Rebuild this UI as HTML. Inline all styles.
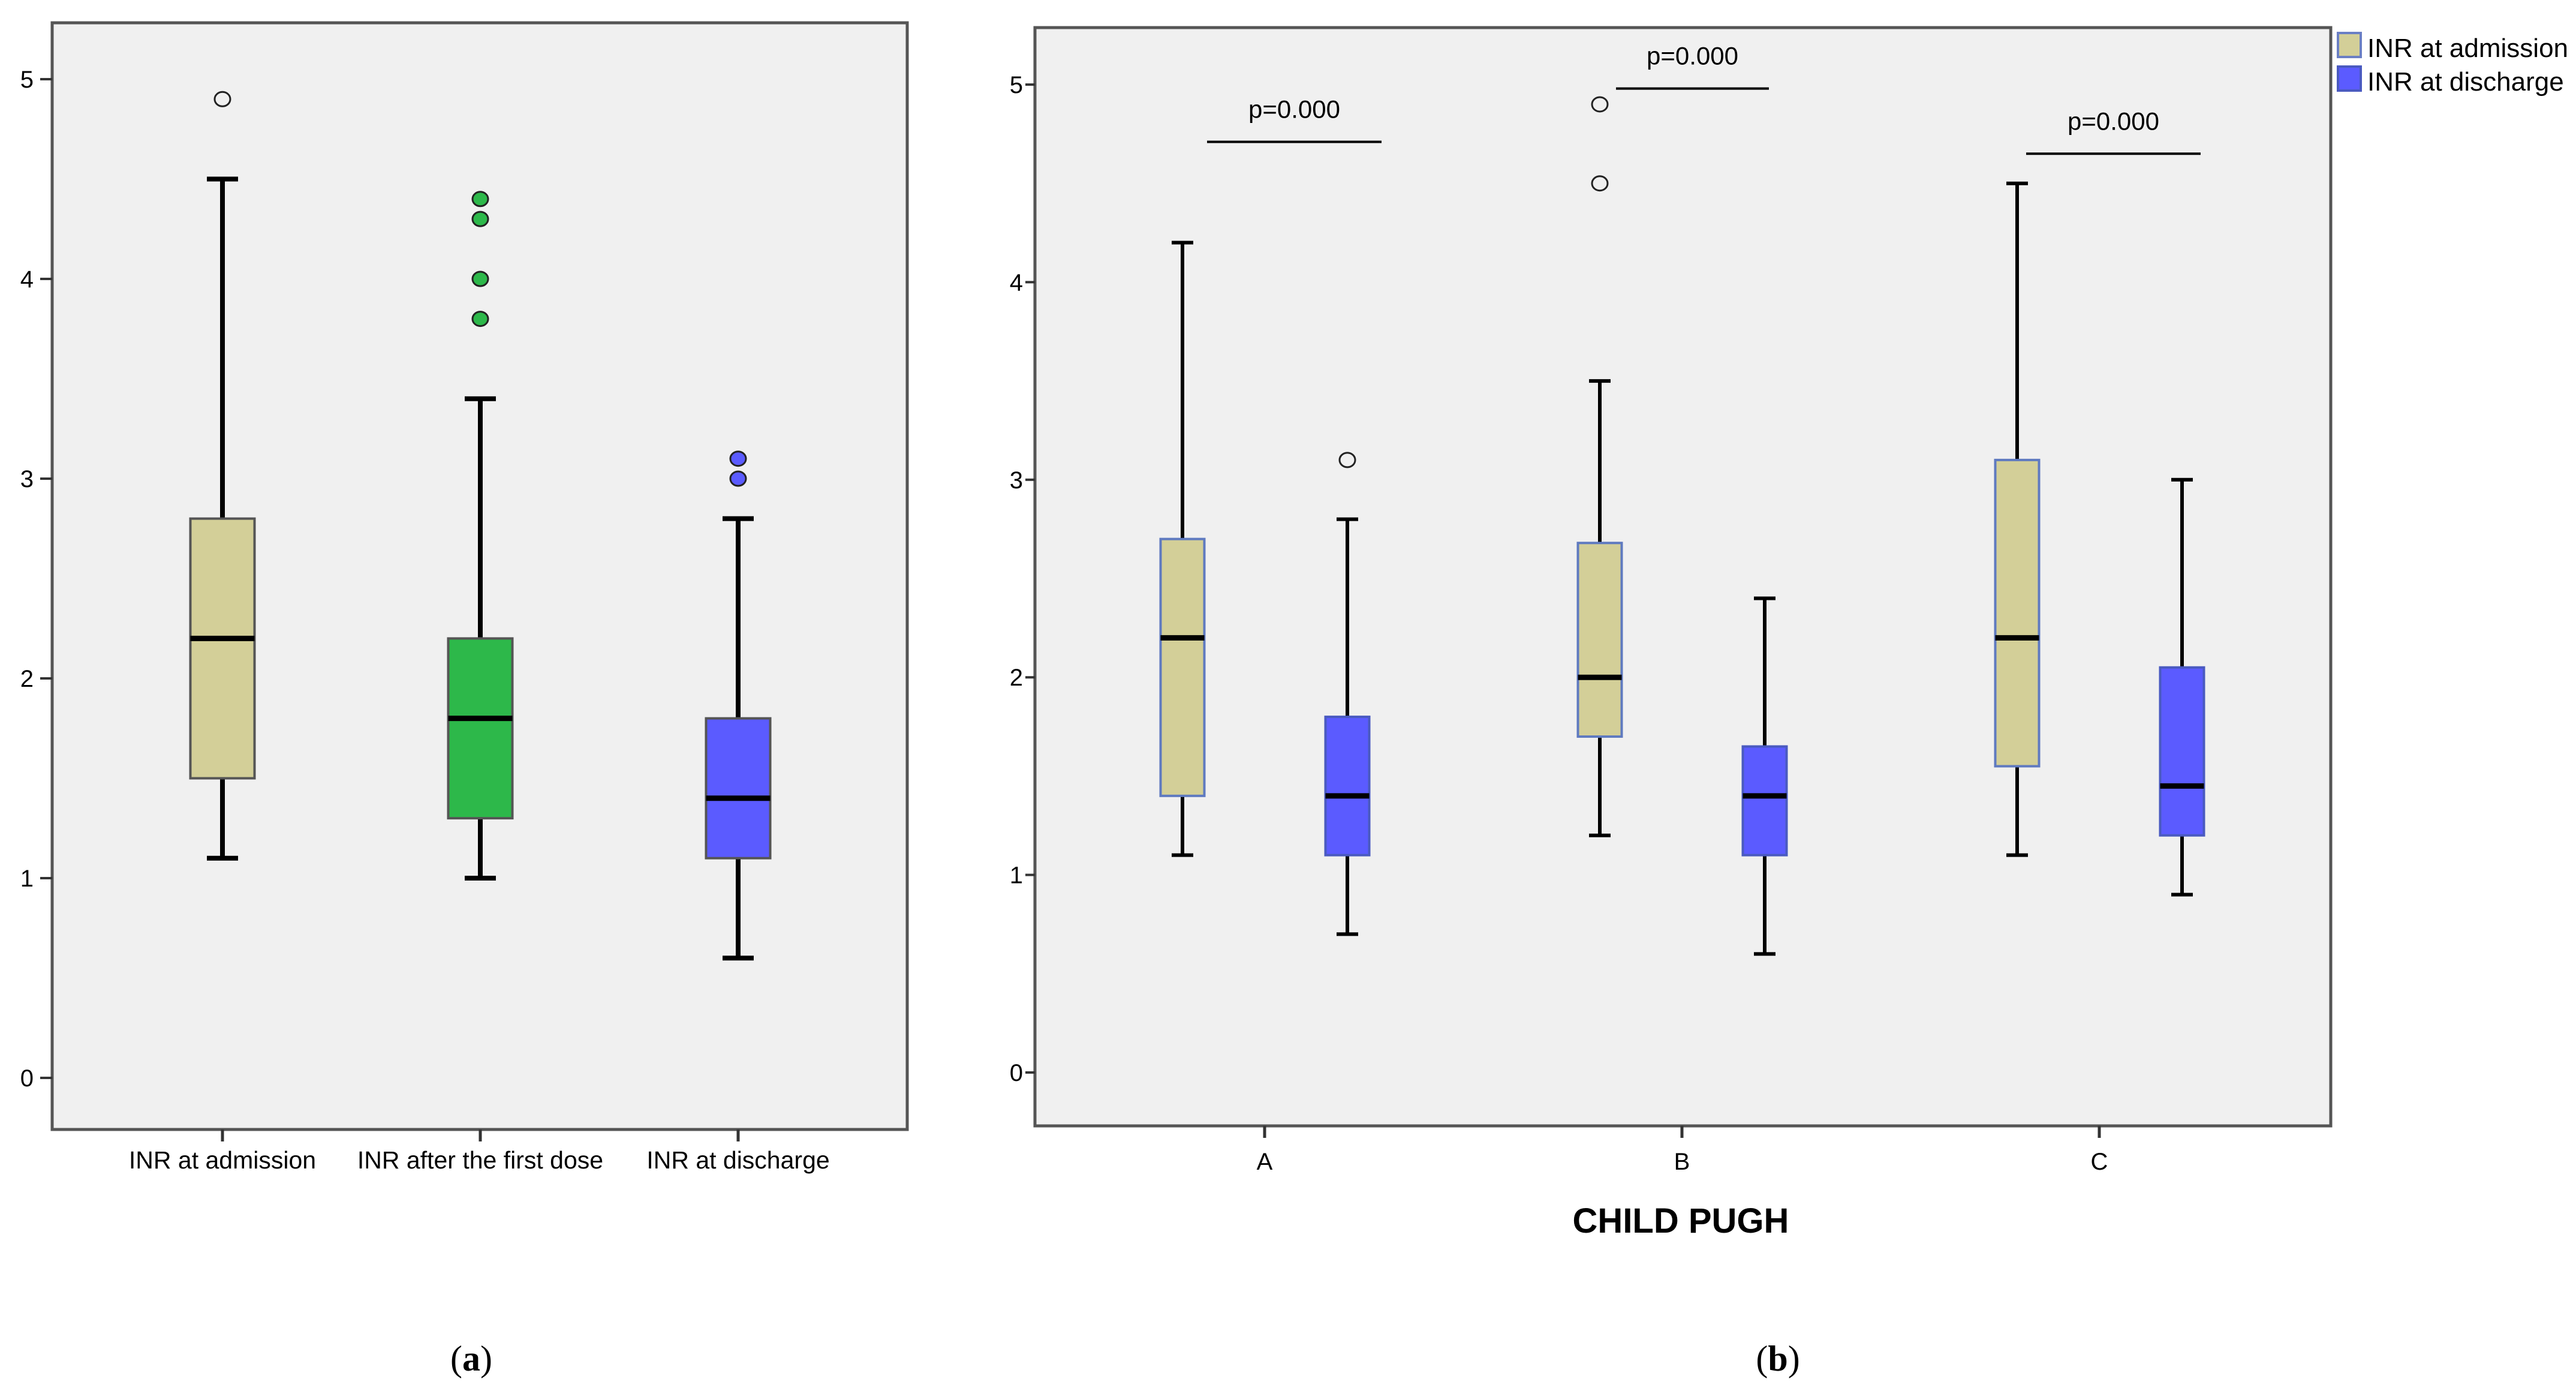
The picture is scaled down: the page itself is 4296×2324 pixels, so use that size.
<!DOCTYPE html>
<html><head><meta charset="utf-8"><style>
html,body{margin:0;padding:0;background:#fff;}
svg{display:block;font-family:"Liberation Sans",Arial,sans-serif;}
</style></head><body>
<svg id="chart" width="4296" height="2324" viewBox="0 0 4296 2324" xmlns="http://www.w3.org/2000/svg">
<rect x="87" y="38" width="1426" height="1845" fill="#f0f0f0" stroke="#555" stroke-width="5"/>
<rect x="1726" y="46" width="2161" height="1831" fill="#f0f0f0" stroke="#555" stroke-width="5"/>
<g id="ga"></g><g id="gb"></g>
<g>
<rect x="3899" y="55" width="38" height="40" fill="#d3cf98" stroke="#6a7fc4" stroke-width="4"/>
<text x="3948" y="95" font-size="44">INR at admission</text>
<rect x="3899" y="111" width="38" height="40" fill="#5b5bff" stroke="#4a5ac0" stroke-width="4"/>
<text x="3948" y="151" font-size="44">INR at discharge</text>
</g>
<text x="2803" y="2055" font-size="58" font-weight="bold" text-anchor="middle">CHILD PUGH</text>
<text x="786" y="2285" font-size="60" text-anchor="middle" font-family="Liberation Serif,serif">(<tspan font-weight="bold">a</tspan>)</text>
<text x="2965" y="2285" font-size="60" text-anchor="middle" font-family="Liberation Serif,serif">(<tspan font-weight="bold">b</tspan>)</text>
</svg>
<script>
// Panel a data
const aCats = ["INR at admission", "INR after the first dose", "INR at discharge"];
const aMin = [1.1, 1.0, 0.6];
const aQ1 = [1.5, 1.3, 1.1];
const aMed = [2.2, 1.8, 1.4];
const aQ3 = [2.8, 2.2, 1.8];
const aMax = [4.5, 3.4, 2.8];
const aOut = [[4.9], [3.8, 4.0, 4.3, 4.4], [3.0, 3.1]];
const aTicks = [0, 1, 2, 3, 4, 5];
// Panel b data
const bCats = ["A", "B", "C"];
const bSeries = ["INR at admission", "INR at discharge"];
const bAdmMin = [1.1, 1.2, 1.1];
const bAdmQ1 = [1.4, 1.7, 1.55];
const bAdmMed = [2.2, 2.0, 2.2];
const bAdmQ3 = [2.7, 2.68, 3.1];
const bAdmMax = [4.2, 3.5, 4.5];
const bAdmOut = [[], [4.5, 4.9], []];
const bDisMin = [0.7, 0.6, 0.9];
const bDisQ1 = [1.1, 1.1, 1.2];
const bDisMed = [1.4, 1.4, 1.45];
const bDisQ3 = [1.8, 1.65, 2.05];
const bDisMax = [2.8, 2.4, 3.0];
const bDisOut = [[3.1], [], []];
const bPLabels = ["p=0.000", "p=0.000", "p=0.000"];
const bPLevels = [4.71, 4.98, 4.65];
const bTicks = [0, 1, 2, 3, 4, 5];

// layout (not data): significance line offsets relative to group centre
const pLeft = [-96, -110, -122];
const pRight = [195, 145, 169];

const NS = "http://www.w3.org/2000/svg";
function mk(parent, tag, attrs) {
  const e = document.createElementNS(NS, tag);
  for (const k in attrs) e.setAttribute(k, attrs[k]);
  parent.appendChild(e);
  return e;
}
const yA = v => 1797 - v * 333;
const xA = i => 371 + i * 430;
const yB = v => 1788 - v * 329.4;
const xB = i => 2109 + i * 696;

function box(g, cx, w, cap, y, mn, q1, md, q3, mx, outs, fill, stroke, outFill, sw, name) {
  let e;
  e = mk(g, "line", {x1: cx, x2: cx, y1: y(mx), y2: y(q3), stroke: "#000", "stroke-width": sw});
  
  
  e = mk(g, "line", {x1: cx, x2: cx, y1: y(q1), y2: y(mn), stroke: "#000", "stroke-width": sw});
  
  
  e = mk(g, "line", {x1: cx - cap / 2, x2: cx + cap / 2, y1: y(mx), y2: y(mx), stroke: "#000", "stroke-width": sw});
  
  
  e = mk(g, "line", {x1: cx - cap / 2, x2: cx + cap / 2, y1: y(mn), y2: y(mn), stroke: "#000", "stroke-width": sw});
  
  
  e = mk(g, "rect", {x: cx - w / 2, y: y(q3), width: w, height: y(q1) - y(q3), fill: fill, stroke: stroke, "stroke-width": 4});
  
  
  e = mk(g, "line", {x1: cx - w / 2, x2: cx + w / 2, y1: y(md), y2: y(md), stroke: "#000", "stroke-width": 9});
  
  
  outs.forEach(o => {
    const c = mk(g, "ellipse", {cx: cx, cy: y(o), rx: 13, ry: 12, fill: outFill, stroke: "#222", "stroke-width": 3});
    
    
  });
}

const ga = document.getElementById("ga");
aTicks.forEach(t => {
  let e = mk(ga, "line", {x1: 67, x2: 87, y1: yA(t), y2: yA(t), stroke: "#333", "stroke-width": 4});
  
  
  e = mk(ga, "text", {x: 56, y: yA(t) + 14, "font-size": 40, "text-anchor": "end"});
  e.textContent = t;
  
  
});
const aFill = ["#d3cf98", "#2db84a", "#5b5bff"];
const aOutFill = ["#f0f0f0", "#2db84a", "#5b5bff"];
aCats.forEach((c, i) => {
  box(ga, xA(i), 107, 52, yA, aMin[i], aQ1[i], aMed[i], aQ3[i], aMax[i], aOut[i], aFill[i], "#555", aOutFill[i], 8, 'panel-a-' + ['admission', 'first-dose', 'discharge'][i]);
  let e = mk(ga, "line", {x1: xA(i), x2: xA(i), y1: 1883, y2: 1903, stroke: "#333", "stroke-width": 5});
  
  
  e = mk(ga, "text", {x: xA(i), y: 1948, "font-size": 41, "text-anchor": "middle"});
  e.textContent = c;
  
  
});

const gb = document.getElementById("gb");
bTicks.forEach(t => {
  let e = mk(gb, "line", {x1: 1710, x2: 1726, y1: yB(t), y2: yB(t), stroke: "#333", "stroke-width": 4});
  
  
  e = mk(gb, "text", {x: 1706, y: yB(t) + 14, "font-size": 40, "text-anchor": "end"});
  e.textContent = t;
  
  
});
bCats.forEach((c, i) => {
  const cx = xB(i);
  box(gb, cx - 137, 73, 36, yB, bAdmMin[i], bAdmQ1[i], bAdmMed[i], bAdmQ3[i], bAdmMax[i], bAdmOut[i], "#d3cf98", "#5f7ac0", "#f0f0f0", 6, 'panel-b-' + c + '-admission');
  box(gb, cx + 138, 73, 36, yB, bDisMin[i], bDisQ1[i], bDisMed[i], bDisQ3[i], bDisMax[i], bDisOut[i], "#5b5bff", "#4a5ac0", "#f0f0f0", 6, 'panel-b-' + c + '-discharge');
  let e = mk(gb, "line", {x1: cx, x2: cx, y1: 1877, y2: 1897, stroke: "#333", "stroke-width": 5});
  
  
  e = mk(gb, "text", {x: cx, y: 1950, "font-size": 40, "text-anchor": "middle"});
  e.textContent = c;
  
  
  const py = yB(bPLevels[i]);
  const x1 = cx + pLeft[i], x2 = cx + pRight[i];
  e = mk(gb, "line", {x1: x1, x2: x2, y1: py, y2: py, stroke: "#000", "stroke-width": 4});
  
  
  e = mk(gb, "text", {x: (x1 + x2) / 2, y: py - 40, "font-size": 42, "text-anchor": "middle"});
  e.textContent = bPLabels[i];
  
  
});
</script>
</body></html>
